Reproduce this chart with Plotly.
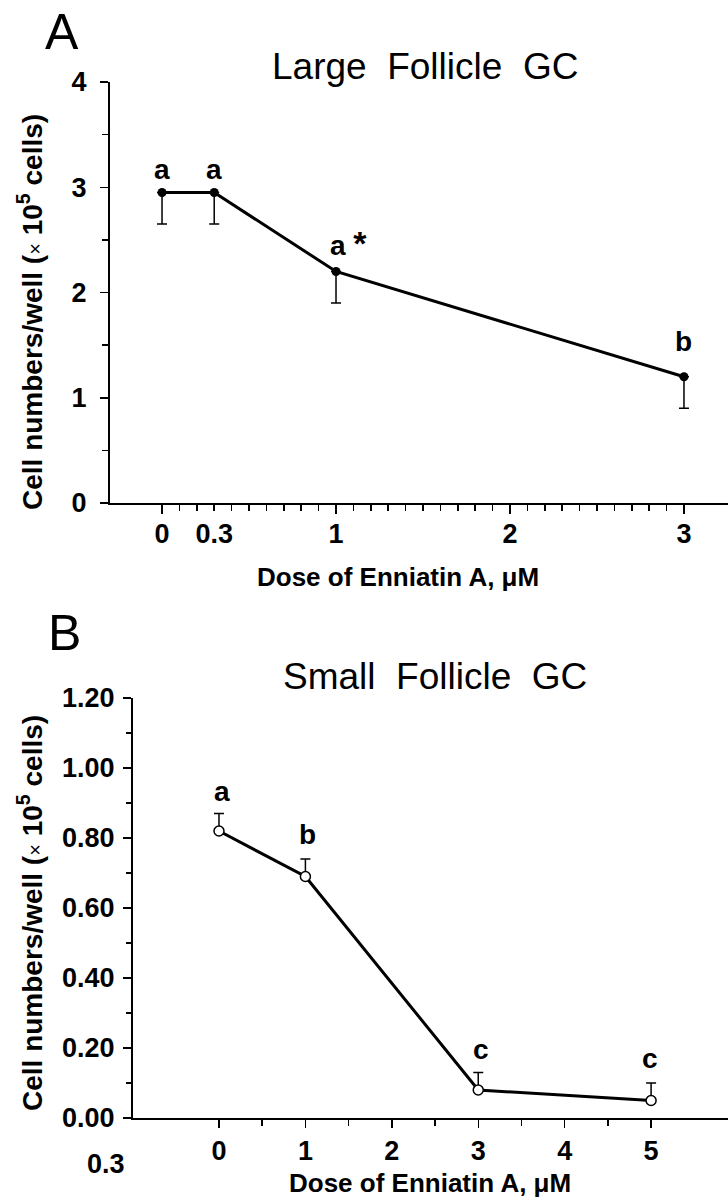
import numpy as np
import plotly.graph_objects as go

# ---------------- data ----------------
# Panel A: Large follicle GC
dose_a = [0, 0.3, 1, 3]
cells_a = [2.95, 2.95, 2.20, 1.20]
err_a = [0.30, 0.30, 0.30, 0.30]
labels_a = ["a", "a", "a <span style='font-size:34px'>*</span>", "b"]
label_y_a = [3.17, 3.17, 2.47, 1.53]

# Panel B: Small follicle GC
dose_b = [0, 1, 3, 5]
cells_b = [0.82, 0.69, 0.08, 0.05]
err_b = [0.05, 0.05, 0.05, 0.05]
labels_b = ["a", "b", "c", "c"]
label_x_b = [0.04, 1.02, 3.03, 4.99]
label_y_b = [0.934, 0.809, 0.197, 0.169]

xticks_a = [0, 0.3, 1, 2, 3]
xticktext_a = ["0", "0.3", "1", "2", "3"]
xmajor_a = [0, 1, 2, 3]
yticks_a = [0, 1, 2, 3, 4]
xticks_b = [0, 1, 2, 3, 4, 5]
yticks_b = [0, 0.2, 0.4, 0.6, 0.8, 1.0, 1.2]

W, H = 728, 1201
FONT = "Liberation Sans, Arial, sans-serif"


def px(xp):
    return xp / W


def py(yp):
    return (H - yp) / H


xminor_a = [round(v, 1) for v in np.arange(0.1, 3.0, 0.1) if round(v, 1) not in xticks_a]
yminor_a = [0.5, 1.5, 2.5, 3.5]
xminor_b = [0.5, 1.5, 2.5, 3.5, 4.5]
yminor_b = [0.1, 0.3, 0.5, 0.7, 0.9, 1.1]

fig = go.Figure()

fig.add_trace(go.Scatter(
    x=dose_a, y=cells_a, mode="lines+markers",
    line=dict(color="black", width=3),
    marker=dict(color="black", size=9),
    error_y=dict(type="data", symmetric=False, array=[0] * len(err_a),
                 arrayminus=err_a, color="black", thickness=1.5, width=5),
    xaxis="x", yaxis="y", showlegend=False, cliponaxis=False,
))

fig.add_trace(go.Scatter(
    x=dose_b, y=cells_b, mode="lines+markers",
    line=dict(color="black", width=3),
    marker=dict(color="white", size=10, line=dict(color="black", width=1.5)),
    error_y=dict(type="data", symmetric=False, array=err_b,
                 arrayminus=[0] * len(err_b), color="black", thickness=1.5, width=5),
    xaxis="x2", yaxis="y2", showlegend=False, cliponaxis=False,
))

# invisible trace so xaxis3 (long major ticks of panel A) is drawn
fig.add_trace(go.Scatter(x=[0], y=[0], xaxis="x3", yaxis="y", mode="markers",
                         marker=dict(opacity=0), showlegend=False, hoverinfo="skip"))

tickfont = dict(family=FONT, size=27, color="black", weight="bold")
axis_common = dict(showgrid=False, zeroline=False, showline=True, linecolor="black",
                   linewidth=2, ticks="outside", tickcolor="black", tickwidth=1.5,
                   tickfont=tickfont, fixedrange=True, automargin=False)

range_a = [-0.299, 3.253]
range_b = [-0.995, 5.89]

fig.update_layout(
    width=W, height=H,
    margin=dict(l=0, r=0, t=0, b=0, autoexpand=False),
    paper_bgcolor="white", plot_bgcolor="white",
    xaxis=dict(domain=[px(110), 1], anchor="y", range=range_a,
               tickmode="array", tickvals=xticks_a, ticktext=xticktext_a, ticklen=6,
               ticklabelstandoff=0,
               minor=dict(tickmode="array", tickvals=xminor_a, ticks="outside",
                          ticklen=6, tickwidth=1.5, tickcolor="black"),
               **axis_common),
    xaxis3=dict(overlaying="x", anchor="y", range=range_a, side="bottom",
                tickmode="array", tickvals=xmajor_a, ticks="outside", ticklen=10,
                tickwidth=1.5, tickcolor="black", showticklabels=False,
                showline=False, showgrid=False, zeroline=False, fixedrange=True,
                automargin=False),
    yaxis=dict(domain=[py(503), py(82)], anchor="x", range=[0, 4],
               tickmode="array", tickvals=yticks_a, ticklen=8, ticklabelstandoff=8,
               minor=dict(tickmode="array", tickvals=yminor_a, ticks="outside",
                          ticklen=6, tickwidth=1.5, tickcolor="black"),
               **axis_common),
    xaxis2=dict(domain=[px(133), 1], anchor="y2", range=range_b,
                tickmode="array", tickvals=xticks_b, ticklen=8, ticklabelstandoff=0,
                minor=dict(tickmode="array", tickvals=xminor_b, ticks="outside",
                           ticklen=6, tickwidth=1.5, tickcolor="black"),
                **axis_common),
    yaxis2=dict(domain=[py(1118), py(698)], anchor="x2", range=[0, 1.2],
                tickmode="array", tickvals=yticks_b, tickformat=".2f", ticklen=8,
                ticklabelstandoff=3,
                minor=dict(tickmode="array", tickvals=yminor_b, ticks="outside",
                           ticklen=5, tickwidth=1.5, tickcolor="black"),
                **axis_common),
)

annots = []
lab_font = dict(family=FONT, size=28, color="black", weight="bold")
for xv, yv, t in zip(dose_a, label_y_a, labels_a):
    if "*" in t:
        annots.append(dict(x=xv, y=yv, xref="x", yref="y", text=t, showarrow=False,
                           xanchor="left", yanchor="middle", xshift=-8, font=lab_font))
    else:
        annots.append(dict(x=xv, y=yv, xref="x", yref="y", text=t, showarrow=False,
                           xanchor="center", yanchor="middle", font=lab_font))
for xv, yv, t in zip(label_x_b, label_y_b, labels_b):
    annots.append(dict(x=xv, y=yv, xref="x2", yref="y2", text=t, showarrow=False,
                       xanchor="center", yanchor="middle", font=lab_font))

title_font = dict(family=FONT, size=37, color="black")
panel_font = dict(family=FONT, size=50, color="black")
axt_font = dict(family=FONT, size=26, color="black", weight="bold")
yt_font = dict(family=FONT, size=28, color="black", weight="bold")
ytitle = "Cell numbers/well (<span style='font-weight:normal;font-size:20px'>×</span> 10<sup>5</sup> cells)"
xtitle = "Dose of Enniatin A, μM"

annots += [
    dict(x=px(62), y=py(32), xref="paper", yref="paper", text="A", showarrow=False,
         xanchor="center", yanchor="middle", font=panel_font),
    dict(x=px(64), y=py(633), xref="paper", yref="paper", text="B", showarrow=False,
         xanchor="center", yanchor="middle", font=panel_font),
    dict(x=px(425), y=py(66), xref="paper", yref="paper",
         text="Large\u00a0\u00a0Follicle\u00a0\u00a0GC", showarrow=False,
         xanchor="center", yanchor="middle", font=title_font),
    dict(x=px(435), y=py(676), xref="paper", yref="paper",
         text="Small\u00a0\u00a0Follicle\u00a0\u00a0GC", showarrow=False,
         xanchor="center", yanchor="middle", font=title_font),
    dict(x=px(398), y=py(577), xref="paper", yref="paper", text=xtitle, showarrow=False,
         xanchor="center", yanchor="middle", font=axt_font),
    dict(x=px(430), y=py(1200), xref="paper", yref="paper", text=xtitle, showarrow=False,
         xanchor="center", yanchor="bottom", font=axt_font),
    dict(x=px(30), y=py(312), xref="paper", yref="paper", text=ytitle, showarrow=False,
         textangle=-90, xanchor="center", yanchor="middle", font=yt_font),
    dict(x=px(30), y=py(913), xref="paper", yref="paper", text=ytitle, showarrow=False,
         textangle=-90, xanchor="center", yanchor="middle", font=yt_font),
    dict(x=px(106), y=py(1164), xref="paper", yref="paper", text="0.3", showarrow=False,
         xanchor="center", yanchor="middle", font=tickfont),
]
fig.update_layout(annotations=annots)

fig.write_html(
    "out.html",
    config={"displayModeBar": False, "staticPlot": True},
    post_script="document.body.style.margin='0';document.body.style.overflow='hidden';",
)
